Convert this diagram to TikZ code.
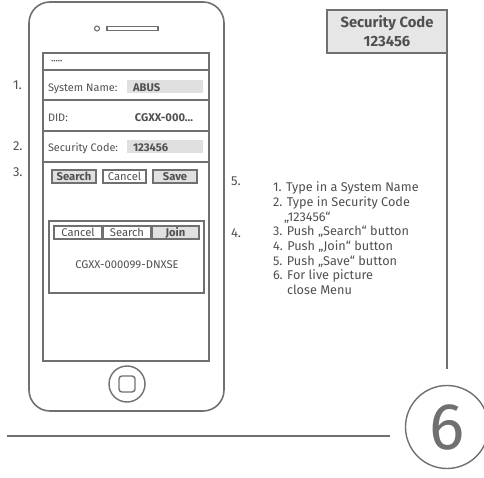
\documentclass[tikz,border=0pt]{standalone}
\usepackage{fontspec}
\setmainfont{Fira Sans}
\usetikzlibrary{calc}
\definecolor{ln}{HTML}{707070}
\definecolor{tx}{HTML}{505050}
\definecolor{fld}{HTML}{E0E0E1}
\definecolor{boxfill}{HTML}{E6E6E7}
\begin{document}
\begin{tikzpicture}[x=1pt,y=-1pt,line width=1.6pt,
  every node/.style={inner sep=0pt,outer sep=0pt},
  field/.style={fill=fld,minimum width=76pt,minimum height=13pt,anchor=north west},
  btn/.style={draw=ln,line width=1.1pt,minimum height=13pt,text=tx,font=\fontsize{11.2}{12}\selectfont},
  bbtn/.style={btn,fill=fld,font=\bfseries\fontsize{11.2}{12}\selectfont},
  formtxt/.style={anchor=base west,text=tx,font=\fontsize{10.9}{12}\selectfont},
  formbold/.style={text=tx,font=\bfseries\fontsize{11.2}{12}\selectfont},
  num/.style={anchor=base west,text=tx,font=\fontsize{13}{13}\selectfont},
  instr/.style={anchor=base west,text=tx,font=\fontsize{12.7}{13}\selectfont}]
\useasboundingbox (0,0) rectangle (484,478);
% phone body
\node[draw=ln,rounded corners=21pt,minimum width=195pt,minimum height=409pt] (phone) at (126.5,206.5) {};
% speaker
\node[draw=ln,line width=1.1pt,circle,minimum size=5pt] (cam) at (97,28.5) {};
\node[draw=ln,line width=1.1pt,minimum width=51pt,minimum height=4.5pt] (spk) at (132.5,28.5) {};
% screen
\node[draw=ln,minimum width=166pt,minimum height=308pt] (screen) at (126,207) {};
\draw[ln] (43,70) -- (209,70);
\draw[ln] (43,100) -- (209,100);
\draw[ln] (43,131) -- (209,131);
\draw[ln] (43,162) -- (209,162);
% rows
\node[formtxt,font=\fontsize{7}{8}\selectfont] (pw) at (51,64) {•••••};
\node[formtxt] (sn) at (48,91.5) {System Name:};
\node[field] (snf) at (127,80) {};
\node[formbold,anchor=base west] (abus) at (133,91.5) {ABUS};
\node[formtxt] (did) at (48,121.5) {DID:};
\node[formbold,anchor=base east] (didv) at (193,121.5) {CGXX-000...};
\node[formtxt] (scl) at (48,151.5) {Security Code:};
\node[field] (scf) at (127,140) {};
\node[formbold,anchor=base west] (scv) at (133,151.5) {123456};
% buttons
\node[bbtn,minimum width=44pt] (bsearch) at (74,176.5) {Search};
\node[btn,fill=white,minimum width=43pt] (bcancel) at (124.5,176.5) {Cancel};
\node[bbtn,minimum width=44pt] (bsave) at (175,176.5) {Save};
% join panel
\node[draw=ln,minimum width=155pt,minimum height=72pt] (panel) at (126.5,257) {};
\node[btn,fill=white,minimum width=48pt] (jcancel) at (78,232.5) {Cancel};
\node[btn,fill=white,minimum width=48pt] (jsearch) at (127,232.5) {Search};
\node[bbtn,minimum width=47pt] (jjoin) at (175.5,232.5) {Join};
\node[text=tx,font=\fontsize{11.2}{12}\selectfont] (dev) at (127,265) {CGXX-000099-DNXSE};
% home button
\node[draw=ln,circle,line width=1.4pt,minimum size=36pt] (home) at (127,384) {};
\node[draw=ln,line width=1.4pt,rounded corners=3pt,minimum size=16pt] (homesq) at (127,384) {};
% step numbers
\node[num] (n1) at (13,90) {1.};
\node[num] (n2) at (13,151) {2.};
\node[num] (n3) at (13,177) {3.};
\node[num] (n5) at (231,185.5) {5.};
\node[num] (n4) at (231,237) {4.};
% instructions
\node[instr] (l1) at (273,192) {1. Type in a System Name};
\node[instr] (l2) at (273,206.6) {2. Type in Security Code};
\node[instr] (l3) at (284,221.2) {„123456“};
\node[instr] (l4) at (273,235.8) {3. Push „Search“ button};
\node[instr] (l5) at (273,250.4) {4. Push „Join“ button};
\node[instr] (l6) at (273,265) {5. Push „Save“ button};
\node[instr] (l7) at (273,279.6) {6. For live picture};
\node[instr] (l8) at (287,294.2) {close Menu};
% security code box
\node[draw=ln,fill=boxfill,minimum width=120pt,minimum height=43pt,align=center,text=tx,
  font=\bfseries\fontsize{14.8}{19}\selectfont] (scbox) at (387,31.5) {Security Code\\123456};
% circle 6
\node[draw=ln,circle,line width=1.4pt,minimum size=83pt,text=ln,font=\fontsize{66}{66}\selectfont] (six) at (447,427) {6};
\coordinate (vend) at (447,369);
\coordinate (hstart) at (7,436);
\coordinate (hend) at (390,436);
\draw[ln] (scbox.south east) -- (vend);
\draw[ln] (hstart) -- (hend);
\end{tikzpicture}
\end{document}
